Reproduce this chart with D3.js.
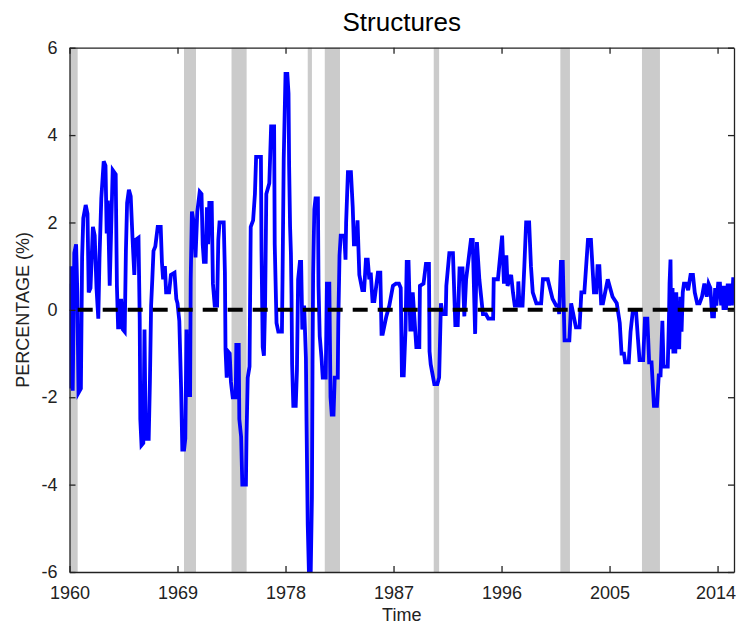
<!DOCTYPE html>
<html>
<head>
<meta charset="utf-8">
<script src="https://cdn.jsdelivr.net/npm/d3@7"></script>
<style>
  body { margin: 0; background: #fff; }
  svg { display: block; font-family: "Liberation Sans", Arial, sans-serif; }
</style>
</head>
<body>
<div id="chart"></div>
<script>
const chartTitle = 'Structures';
const xTickYears = [1960, 1969, 1978, 1987, 1996, 2005, 2014];
const yTickValues = [-6, -4, -2, 0, 2, 4, 6];

// shaded recession spans [start, end] in years
const recessions = [
    [1960.05, 1960.68], [1969.54, 1970.54], [1973.5, 1974.76], [1979.85, 1980.2],
    [1981.27, 1982.54], [1990.35, 1990.8], [2000.9, 2001.7], [2007.7, 2009.2]
];

// [year, percent]
const structures = [
    [1960.00, 0.6], [1960.05, -1.8], [1960.15, 1.0], [1960.27, -1.85], [1960.4, 1.3], [1960.55, 1.5],
    [1960.65, 0.4], [1960.75, -1.9], [1960.95, -1.8], [1961.05, 1.2], [1961.15, 2.1], [1961.35, 2.4],
    [1961.5, 2.2], [1961.6, 0.4], [1961.75, 0.5], [1961.95, 1.9], [1962.1, 1.7], [1962.25, 0.5],
    [1962.4, -0.2], [1962.5, 1.2], [1962.65, 2.55], [1962.85, 3.4], [1963.0, 3.3], [1963.1, 1.75],
    [1963.2, 2.5], [1963.35, 0.55], [1963.6, 3.2], [1963.85, 3.1], [1963.95, 0.55], [1964.05, -0.4],
    [1964.2, -0.4], [1964.3, 0.25], [1964.45, -0.45], [1964.6, -0.5], [1964.7, 1.35], [1964.8, 2.45],
    [1964.95, 2.75], [1965.1, 2.6], [1965.25, 1.65], [1965.4, 0.8], [1965.5, 1.6], [1965.75, 1.65],
    [1965.85, -0.2], [1965.9, -2.5], [1966.0, -3.1], [1966.15, -3.05], [1966.25, -0.45], [1966.35, -2.95],
    [1966.6, -2.95], [1966.7, -1.65], [1966.8, 0.1], [1966.9, 0.7], [1967.0, 1.35], [1967.15, 1.45],
    [1967.35, 1.9], [1967.6, 1.9], [1967.7, 1.1], [1967.8, 0.7], [1967.95, 1.0], [1968.05, 0.4],
    [1968.3, 0.4], [1968.45, 0.8], [1968.75, 0.85], [1968.9, 0.25], [1969.0, 0.15], [1969.15, -0.25],
    [1969.3, -1.8], [1969.4, -3.2], [1969.55, -3.2], [1969.65, -2.95], [1969.75, -0.45], [1969.85, -1.95],
    [1970.05, -1.95], [1970.1, 0.7], [1970.2, 2.25], [1970.35, 2.0], [1970.5, 1.2], [1970.65, 2.25],
    [1970.85, 2.7], [1971.0, 2.65], [1971.1, 1.5], [1971.2, 1.1], [1971.35, 1.1], [1971.45, 2.35],
    [1971.55, 1.5], [1971.65, 2.45], [1971.85, 2.45], [1971.95, 0.6], [1972.1, 0.1], [1972.3, 0.1],
    [1972.4, 1.6], [1972.5, 2.0], [1972.85, 2.0], [1972.95, 0.85], [1973.0, -0.9], [1973.1, -1.55],
    [1973.2, -0.95], [1973.35, -1.0], [1973.45, -1.65], [1973.6, -2.0], [1973.85, -2.0], [1973.9, -0.8],
    [1974.1, -0.8], [1974.15, -2.5], [1974.3, -2.9], [1974.4, -4.0], [1974.7, -4.0], [1974.75, -2.9],
    [1974.85, -1.55], [1975.0, -1.3], [1975.1, 1.9], [1975.3, 2.05], [1975.45, 2.65], [1975.55, 3.5],
    [1975.95, 3.5], [1976.0, 1.35], [1976.1, -0.85], [1976.2, -1.05], [1976.3, 0.15], [1976.4, 2.65],
    [1976.65, 2.9], [1976.8, 4.2], [1977.05, 4.2], [1977.1, 1.5], [1977.25, -0.3], [1977.4, -0.5],
    [1977.7, -0.5], [1977.75, 0.7], [1977.85, 3.45], [1978.0, 5.4], [1978.15, 5.4], [1978.25, 4.95],
    [1978.3, 3.3], [1978.38, 1.9], [1978.45, 1.3], [1978.5, 0.35], [1978.55, -1.25], [1978.65, -2.2],
    [1978.85, -2.2], [1978.95, -1.4], [1979.05, 0.7], [1979.2, 1.1], [1979.3, 1.1], [1979.4, -0.45],
    [1979.55, 0.1], [1979.7, -1.1], [1979.75, -2.55], [1979.85, -4.9], [1979.95, -6.0], [1980.1, -6.0],
    [1980.2, -4.3], [1980.25, -1.25], [1980.3, 0.8], [1980.4, 2.3], [1980.5, 2.55], [1980.7, 2.55],
    [1980.75, 0.55], [1980.85, -0.6], [1981.0, -1.1], [1981.1, -1.55], [1981.35, -1.55], [1981.45, 0.6],
    [1981.65, 0.6], [1981.75, -2.0], [1981.85, -2.4], [1982.0, -2.4], [1982.1, -1.55], [1982.35, -1.55],
    [1982.4, -0.25], [1982.5, 1.25], [1982.6, 1.7], [1982.9, 1.7], [1983.0, 1.15], [1983.05, 2.0],
    [1983.2, 3.15], [1983.45, 3.15], [1983.6, 2.35], [1983.7, 1.5], [1983.9, 1.5], [1984.0, 2.05],
    [1984.15, 0.8], [1984.4, 0.45], [1984.55, 0.45], [1984.7, 1.15], [1984.85, 1.15], [1984.98, 0.7],
    [1985.1, 0.85], [1985.25, 0.2], [1985.4, 0.2], [1985.7, 0.85], [1985.9, 0.85], [1986.0, -0.55],
    [1986.1, -0.55], [1986.4, -0.15], [1986.65, 0.1], [1986.95, 0.55], [1987.2, 0.6], [1987.45, 0.6],
    [1987.6, 0.5], [1987.7, -1.5], [1987.85, -1.5], [1988.0, -0.45], [1988.1, 1.1], [1988.25, 1.1],
    [1988.4, -0.45], [1988.55, -0.45], [1988.6, 0.4], [1988.9, -0.85], [1989.15, -0.85], [1989.2, 0.55],
    [1989.5, 0.6], [1989.7, 1.05], [1989.95, 1.05], [1990.0, -0.95], [1990.1, -1.25], [1990.4, -1.7],
    [1990.65, -1.7], [1990.8, -1.55], [1990.95, 0.15], [1991.1, -0.1], [1991.35, -0.1], [1991.4, 0.55],
    [1991.65, 1.3], [1991.95, 1.3], [1992.15, -0.35], [1992.35, -0.35], [1992.5, 0.95], [1992.75, 0.95],
    [1992.9, -0.15], [1993.05, 0.7], [1993.45, 1.6], [1993.6, 1.6], [1993.8, -0.55], [1993.95, 1.55],
    [1994.15, 0.7], [1994.45, -0.1], [1994.7, -0.1], [1994.9, -0.2], [1995.3, -0.2], [1995.35, 0.7],
    [1995.7, 0.7], [1996.05, 1.7], [1996.2, 0.6], [1996.35, 1.0], [1996.4, 1.25], [1996.5, 0.55],
    [1996.8, 0.8], [1996.95, 0.4], [1997.1, 0.1], [1997.35, 0.1], [1997.4, 0.65], [1997.5, 0.1],
    [1997.75, 0.1], [1997.9, 1.0], [1998.05, 2.0], [1998.3, 2.0], [1998.45, 1.0], [1998.6, 0.4],
    [1998.9, 0.15], [1999.3, 0.15], [1999.45, 0.7], [1999.85, 0.7], [2000.25, 0.25], [2000.55, 0.1],
    [2000.75, 0.1], [2000.8, -0.1], [2000.95, 1.1], [2001.1, 1.1], [2001.25, -0.7], [2001.65, -0.7],
    [2001.8, 0.15], [2002.2, -0.4], [2002.5, -0.4], [2002.65, 0.4], [2002.9, 0.4], [2003.2, 1.6],
    [2003.45, 1.6], [2003.7, 0.4], [2003.9, 0.4], [2004.0, 1.0], [2004.15, 1.0], [2004.3, 0.15],
    [2004.45, 0.15], [2004.85, 0.7], [2005.25, 0.3], [2005.6, 0.15], [2005.85, -0.3], [2006.0, -1.0],
    [2006.2, -1.0], [2006.3, -1.2], [2006.6, -1.2], [2006.75, -0.5], [2006.95, 0.0], [2007.2, 0.0],
    [2007.35, -0.6], [2007.5, -1.15], [2007.8, -1.15], [2007.95, -0.2], [2008.15, -0.2], [2008.3, -1.2],
    [2008.5, -1.2], [2008.7, -2.2], [2008.95, -2.2], [2009.1, -1.5], [2009.25, -1.5], [2009.4, -0.25],
    [2009.5, -1.3], [2009.85, -1.3], [2009.95, -0.2], [2010.0, 0.6], [2010.08, 1.15], [2010.15, -0.9],
    [2010.25, 0.5], [2010.32, -1.0], [2010.4, 0.3], [2010.48, -1.0], [2010.56, 0.4], [2010.64, -0.9],
    [2010.72, 0.2], [2010.8, -0.9], [2010.9, 0.3], [2011.0, -0.5], [2011.1, 0.4], [2011.2, 0.6],
    [2011.4, 0.6], [2011.55, 0.45], [2011.75, 0.8], [2011.95, 0.8], [2012.1, 0.4], [2012.3, 0.15],
    [2012.5, 0.15], [2012.7, 0.3], [2012.9, 0.6], [2013.1, 0.3], [2013.25, 0.6], [2013.4, 0.5],
    [2013.55, -0.15], [2013.7, -0.15], [2013.8, 0.5], [2013.9, 0.1], [2014.05, 0.6], [2014.2, 0.6],
    [2014.3, 0.1], [2014.4, 0.55], [2014.5, 0.0], [2014.6, 0.55], [2014.7, 0.0], [2014.85, 0.6],
    [2014.95, 0.1], [2015.1, 0.6], [2015.2, 0.1], [2015.3, 0.7], [2015.37, 0.7]
];

const width = 736;
const height = 627;
const margin = { top: 47.7, right: 2, bottom: 55, left: 69.5 };
const textColor = '#222';

const svg = d3.select('#chart')
    .append('svg')
    .attr('width', width)
    .attr('height', height);

const xScale = d3.scaleLinear()
    .domain([1960, 2015.37])
    .range([margin.left, width - margin.right]);

const yScale = d3.scaleLinear()
    .domain([-6, 6])
    .range([height - margin.bottom, margin.top]);

const plotW = xScale.range()[1] - xScale.range()[0];
const plotH = yScale.range()[0] - yScale.range()[1];

svg.append('clipPath')
    .attr('id', 'plot-clip')
    .append('rect')
    .attr('x', margin.left)
    .attr('y', margin.top)
    .attr('width', plotW)
    .attr('height', plotH);

// recession shading
svg.append('g')
    .selectAll('rect')
    .data(recessions)
    .enter().append('rect')
    .attr('x', d => xScale(d[0]))
    .attr('width', d => xScale(d[1]) - xScale(d[0]))
    .attr('y', margin.top)
    .attr('height', plotH)
    .attr('fill', '#cbcbcb');

const line = d3.line()
    .x(d => xScale(d[0]))
    .y(d => yScale(d[1]));

svg.append('path')
    .datum(structures)
    .attr('clip-path', 'url(#plot-clip)')
    .attr('fill', 'none')
    .attr('stroke', '#0000ff')
    .attr('stroke-width', 3.8)
    .attr('stroke-linejoin', 'miter')
    .attr('d', line);

// zero reference
svg.append('line')
    .attr('x1', xScale(1960))
    .attr('x2', xScale(2015.37))
    .attr('y1', yScale(0))
    .attr('y2', yScale(0))
    .attr('stroke', '#000')
    .attr('stroke-width', 4)
    .attr('stroke-dasharray', '15,10')
    .attr('stroke-dashoffset', 16.8);

// axes, matlab-style: ticks pointing inward on all four sides
const tickLen = 6;
const plainNum = d => String(d);   // hyphen minus, like the original

svg.append('g')
    .attr('transform', `translate(0,${yScale(-6)})`)
    .call(d3.axisBottom(xScale).tickValues(xTickYears).tickFormat(plainNum)
        .tickSizeInner(-tickLen).tickSizeOuter(0).tickPadding(14))
    .call(g => g.selectAll('text').style('font-size', '18px').attr('fill', textColor))
    .call(g => g.selectAll('.tick').filter(d => d === 2014).select('text').attr('dx', -2));

svg.append('g')
    .attr('transform', `translate(0,${yScale(6)})`)
    .call(d3.axisTop(xScale).tickValues(xTickYears).tickFormat('')
        .tickSizeInner(-tickLen).tickSizeOuter(0));

svg.append('g')
    .attr('transform', `translate(${xScale(1960)},0)`)
    .call(d3.axisLeft(yScale).tickValues(yTickValues).tickFormat(plainNum)
        .tickSizeInner(-tickLen).tickSizeOuter(0).tickPadding(12))
    .call(g => g.selectAll('text').style('font-size', '18px').attr('fill', textColor));

svg.append('g')
    .attr('transform', `translate(${xScale(2015.37)},0)`)
    .call(d3.axisRight(yScale).tickValues(yTickValues).tickFormat('')
        .tickSizeInner(-tickLen).tickSizeOuter(0));

svg.selectAll('.domain').attr('stroke', '#222').attr('stroke-width', 1.3);
svg.selectAll('.tick line').attr('stroke', '#222').attr('stroke-width', 1.3);

svg.append('text')
    .attr('x', (xScale.range()[0] + xScale.range()[1]) / 2)
    .attr('y', 31)
    .attr('text-anchor', 'middle')
    .style('font-size', '26px')
    .attr('fill', '#000')
    .text(chartTitle);

svg.append('text')
    .attr('x', (xScale.range()[0] + xScale.range()[1]) / 2)
    .attr('y', 621)
    .attr('text-anchor', 'middle')
    .style('font-size', '18px')
    .attr('fill', textColor)
    .text('Time');

svg.append('text')
    .attr('transform', 'rotate(-90)')
    .attr('x', -yScale(0))
    .attr('y', 29)
    .attr('text-anchor', 'middle')
    .style('font-size', '18px')
    .attr('fill', textColor)
    .text('PERCENTAGE (%)');
</script>
</body>
</html>
